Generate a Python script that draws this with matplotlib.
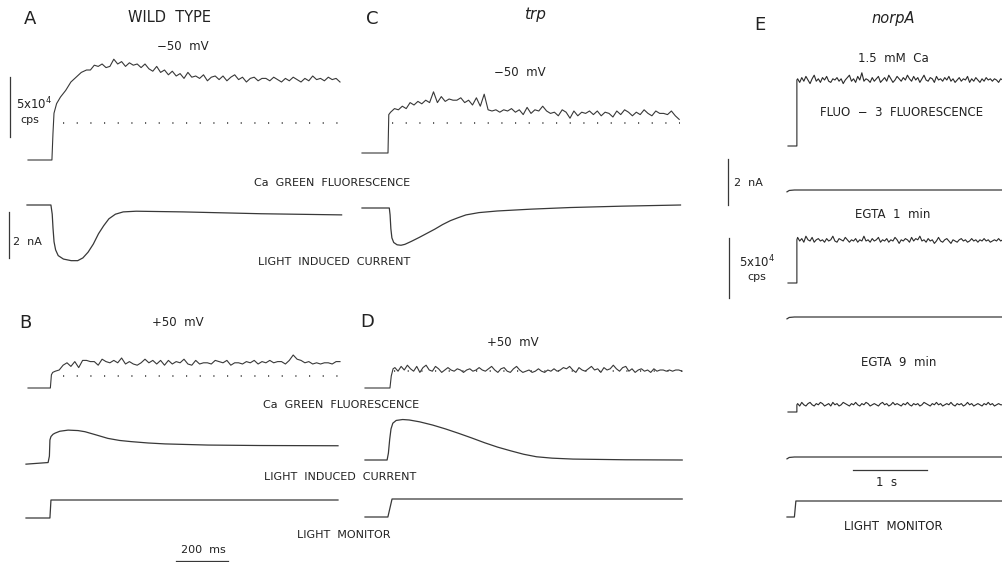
import numpy as np
import matplotlib
matplotlib.use('Agg')
import matplotlib.pyplot as plt

# ---- data (fluorescence in 10^4 cps, current in nA, time in ms / s) ----

# A: wild type, -50 mV
a_fluo_rise_t = [0, 92, 96, 100, 110, 125, 145, 165, 185, 205, 225]
a_fluo_rise_v = [0, 0, 2.2, 3.9, 4.7, 5.25, 5.8, 6.5, 6.9, 7.3, 7.5]
a_fluo_t0, a_fluo_dt = 240, 15
a_fluo_v = [7.5, 7.9, 7.8, 8.0, 7.7, 7.8, 8.4, 8.0, 8.2, 7.8, 8.1, 7.9, 8.0, 7.7,
            8.0, 7.6, 7.4, 7.8, 7.3, 7.5, 7.1, 7.4, 7.0, 7.2, 6.8, 7.3, 6.9, 7.0,
            6.8, 7.1, 6.6, 6.9, 7.0, 6.7, 7.0, 6.6, 6.9, 7.1, 6.7, 6.9, 6.5, 6.8,
            6.9, 6.6, 6.8, 6.8, 6.6, 6.9, 6.7, 6.5, 6.8, 6.6, 6.9, 6.7, 6.5, 6.8,
            6.6, 7.0, 6.7, 6.8, 6.6, 6.9, 6.7, 6.8, 6.5]
a_dot_level = 3.1
a_curr_t = [0, 92, 97, 100, 104, 110, 120, 140, 170, 195, 215, 235, 255, 275,
            295, 315, 340, 370, 420, 600, 900, 1210]
a_curr_v = [0, 0, -0.4, -1.0, -1.6, -1.95, -2.2, -2.35, -2.42, -2.42, -2.3,
            -2.05, -1.7, -1.25, -0.9, -0.6, -0.4, -0.3, -0.27, -0.3, -0.38, -0.43]

# C: trp, -50 mV
c_fluo_rise_t = [0, 100, 103]
c_fluo_rise_v = [0, 0, 3.2]
c_fluo_t0, c_fluo_dt = 110, 15
c_fluo_v = [3.4, 3.7, 3.6, 3.9, 3.7, 4.2, 4.0, 4.3, 4.1, 4.4, 4.2, 5.1, 4.2, 4.7,
            4.3, 4.5, 4.4, 4.4, 4.6, 4.2, 4.4, 4.0, 4.6, 3.9, 4.9, 3.6, 3.5, 3.6,
            3.4, 3.6, 3.5, 3.7, 3.4, 3.6, 3.2, 3.8, 3.3, 3.6, 3.5, 3.9, 3.5, 3.3,
            3.4, 3.1, 3.6, 3.4, 2.9, 3.5, 3.1, 3.4, 3.3, 3.5, 3.2, 3.5, 3.1, 3.4,
            3.3, 3.0, 3.5, 3.2, 3.6, 3.4, 3.1, 3.4, 3.2, 3.6, 3.3, 3.1, 3.5, 3.3,
            3.3, 3.2, 3.5, 3.1, 2.8]
c_dot_level = 2.5
c_curr_t = [0, 105, 108, 111, 115, 122, 135, 150, 165, 190, 220, 250, 280, 310,
            340, 370, 400, 450, 520, 650, 800, 1000, 1225]
c_curr_v = [0, 0, -0.3, -0.9, -1.3, -1.5, -1.6, -1.62, -1.58, -1.45, -1.28,
            -1.1, -0.92, -0.72, -0.55, -0.42, -0.3, -0.2, -0.13, -0.05, 0.02,
            0.08, 0.13]

# B: wild type, +50 mV
b_fluo_rise_t = [0, 86, 90, 95]
b_fluo_rise_v = [0, 0, 1.1, 1.3]
b_fluo_t0, b_fluo_dt = 105, 15
b_fluo_v = [1.4, 1.5, 1.9, 2.1, 1.8, 2.2, 1.7, 2.3, 2.3, 2.2, 2.2, 1.9, 2.4, 2.2,
            2.1, 2.3, 2.1, 2.5, 2.0, 2.2, 2.0, 1.9, 2.1, 2.4, 2.1, 2.3, 2.0, 2.3,
            1.9, 2.3, 2.0, 2.2, 2.1, 2.4, 2.0, 1.9, 2.3, 2.0, 2.1, 2.1, 2.0, 2.3,
            2.2, 2.1, 2.3, 1.9, 2.1, 2.1, 2.0, 2.2, 2.1, 2.3, 2.0, 2.2, 2.1, 2.3,
            2.1, 2.2, 2.2, 2.0, 2.3, 2.75, 2.4, 2.3, 2.1, 2.2, 2.0, 2.1, 2.0, 2.1,
            2.1, 2.0, 2.2, 2.2]
b_dot_level = 1.0
b_curr_t = [0, 85, 90, 92, 96, 104, 112, 130, 162, 200, 227, 270, 315, 360,
            404, 470, 535, 700, 900, 1200]
b_curr_v = [-0.05, 0.02, 0.3, 1.0, 1.15, 1.25, 1.3, 1.38, 1.43, 1.41, 1.36,
            1.22, 1.07, 0.98, 0.93, 0.87, 0.83, 0.78, 0.76, 0.75]
b_light_t = [0, 92, 96, 1200]
b_light_v = [0, 0, 1, 1]

# D: trp, +50 mV
d_fluo_rise_t = [0, 96, 101, 108]
d_fluo_rise_v = [0, 0, 1.0, 1.6]
d_fluo_t0, d_fluo_dt = 115, 12
d_fluo_v = [1.7, 1.4, 1.8, 1.5, 1.9, 1.6, 1.4, 1.8, 1.3, 1.7, 1.9, 1.5, 1.4, 1.8,
            1.6, 1.3, 1.5, 1.7, 1.5, 1.4, 1.6, 1.5, 1.3, 1.5, 1.6, 1.4, 1.5, 1.7,
            1.5, 1.4, 1.6, 1.8, 1.5, 1.3, 1.6, 1.7, 1.4, 1.3, 1.6, 1.8, 1.5, 1.3,
            1.4, 1.5, 1.3, 1.4, 1.6, 1.4, 1.3, 1.5, 1.4, 1.6, 1.4, 1.5, 1.7, 1.6,
            1.8, 1.5, 1.3, 1.7, 1.5, 1.4, 1.6, 1.8, 1.5, 1.6, 1.3, 1.7, 1.5, 1.6,
            1.9, 1.6, 1.4, 1.7, 1.8, 1.4, 1.6, 1.3, 1.5, 1.6, 1.4, 1.5, 1.3, 1.6,
            1.4, 1.5, 1.5, 1.4, 1.5, 1.4, 1.5, 1.5, 1.4]
d_dot_level = 1.4
d_curr_t = [0, 85, 90, 95, 100, 107, 120, 145, 170, 210, 260, 310, 360, 410,
            460, 510, 560, 610, 660, 720, 800, 1000, 1220]
d_curr_v = [0, 0, 0.3, 0.9, 1.35, 1.6, 1.72, 1.76, 1.74, 1.66, 1.52, 1.35, 1.16,
            0.96, 0.75, 0.56, 0.4, 0.25, 0.14, 0.08, 0.04, 0.01, 0]
d_light_t = [0, 88, 104, 1220]
d_light_v = [0, 0, 1, 1]

# E: norpA (time in s)
e_step_t = [0, 0.12, 0.12]
e_dt = 0.028
e1_level = 5.5
e1_v = [5.6, 5.3, 5.7, 5.4, 5.8, 5.5, 5.2, 5.6, 5.9, 5.4, 5.6, 5.3, 5.7, 5.5,
        5.8, 5.4, 5.3, 5.6, 5.5, 5.7, 5.4, 5.6, 5.2, 5.5, 5.7, 5.9, 5.4, 5.6,
        5.3, 5.8, 5.5, 6.1, 5.4, 5.6, 5.5, 5.3, 5.7, 5.4, 5.6, 5.8, 5.3, 5.5,
        5.7, 5.4, 5.9, 5.6, 5.3, 5.5, 5.8, 5.6, 5.4, 5.7, 5.5, 5.9, 5.6, 5.4,
        5.8, 5.5, 5.7, 5.3, 5.6, 5.9, 5.5, 5.4, 5.7, 5.6, 5.3, 5.8, 5.5, 5.6,
        5.4, 5.7, 5.5, 5.8, 5.4, 5.6, 5.3, 5.5, 5.7, 5.4, 5.6, 5.5, 5.8, 5.3,
        5.6, 5.4, 5.7, 5.5, 5.3, 5.6, 5.4, 5.7, 5.5, 5.6, 5.4, 5.6, 5.5, 5.3,
        5.6, 5.5]
e2_level = 3.6
e2_v = [3.8, 3.5, 3.7, 3.4, 3.9, 3.6, 3.5, 3.8, 3.4, 3.6, 3.7, 3.5, 3.6, 3.4,
        3.7, 3.5, 3.6, 3.9, 3.5, 3.4, 3.7, 3.6, 3.5, 3.8, 3.6, 3.4, 3.6, 3.5,
        3.7, 3.4, 3.6, 3.5, 3.9, 3.5, 3.6, 3.4, 3.7, 3.5, 3.6, 3.8, 3.4, 3.6,
        3.5, 3.7, 3.4, 3.6, 3.5, 3.8, 3.6, 3.3, 3.6, 3.5, 3.7, 3.6, 3.4, 3.8,
        3.5, 3.7, 3.6, 3.9, 3.5, 3.6, 3.4, 3.7, 3.5, 3.6, 3.3, 3.5, 3.8, 3.5,
        3.4, 3.6, 3.7, 3.5, 3.3, 3.6, 3.5, 3.4, 3.6, 3.7, 3.5, 3.6, 3.4, 3.5,
        3.7, 3.5, 3.6, 3.4, 3.6, 3.5, 3.7, 3.5, 3.6, 3.4, 3.5, 3.6, 3.5, 3.7,
        3.5, 3.6]
e3_level = 0.6
e3_v = [0.7, 0.5, 0.8, 0.6, 0.5, 0.7, 0.8, 0.6, 0.5, 0.7, 0.6, 0.8, 0.7, 0.5,
        0.6, 0.7, 0.5, 0.8, 0.6, 0.7, 0.5, 0.6, 0.8, 0.7, 0.6, 0.5, 0.7, 0.6,
        0.8, 0.6, 0.5, 0.7, 0.6, 0.8, 0.7, 0.5, 0.6, 0.7, 0.6, 0.5, 0.7, 0.8,
        0.6, 0.7, 0.5, 0.6, 0.8, 0.6, 0.7, 0.6, 0.5, 0.7, 0.6, 0.8, 0.6, 0.5,
        0.7, 0.6, 0.7, 0.5, 0.6, 0.8, 0.7, 0.6, 0.5, 0.7, 0.6, 0.8, 0.6, 0.7,
        0.5, 0.6, 0.7, 0.6, 0.8, 0.6, 0.5, 0.7, 0.6, 0.7, 0.5, 0.6, 0.8, 0.6,
        0.7, 0.5, 0.6, 0.7, 0.6, 0.5, 0.7, 0.6, 0.8, 0.6, 0.7, 0.5, 0.6, 0.7,
        0.6, 0.6]
e_curr_t = [0, 0.03, 0.1, 3.0]
e_curr_v = [-0.08, -0.02, 0, 0]
e_light_t = [0, 0.1, 0.12, 3.0]
e_light_v = [0, 0, 1, 1]

# ---- layout helpers (pixel based) ----
W, H = 1003, 562
INK = '#383838'
PX_MS = 0.26      # px per ms (A-D)
PX_S = 74.0       # px per s (E)
PX_FL = 12.0      # px per 10^4 cps
PX_NA = 23.0      # px per nA
PX_LM = 18.0      # px per light-monitor unit

fig = plt.figure(figsize=(W / 100, H / 100), dpi=100)
fig.patch.set_facecolor('white')


def trace_axes(x0, y0, t_lo, t_hi, v_lo, v_hi, px_t, px_v):
    # x0, y0: pixel position of t=0, v=0
    left = x0 + t_lo * px_t
    right = x0 + t_hi * px_t
    top = y0 - v_hi * px_v
    bottom = y0 - v_lo * px_v
    ax = fig.add_axes([left / W, 1 - bottom / H, (right - left) / W, (bottom - top) / H])
    ax.set_xlim(t_lo, t_hi)
    ax.set_ylim(v_lo, v_hi)
    ax.axis('off')
    return ax


def noisy(rise_t, rise_v, t0, dt, vals):
    t = list(rise_t) + [t0 + dt * i for i in range(len(vals))]
    v = list(rise_v) + list(vals)
    return t, v


def label(x, y, s, size=8, **kw):
    fig.text(x / W, 1 - y / H, s, fontsize=size, color='#222222',
             ha=kw.pop('ha', 'center'), va=kw.pop('va', 'center'), **kw)


def dotted(ax, t_from, t_to, level):
    ax.plot([t_from, t_to], [level, level], color='#444444', lw=1.2,
            linestyle=(0, (0.7, 7.5)))


# ---- panel A ----
ax = trace_axes(28, 160, -80, 1220, -0.5, 9, PX_MS, PX_FL)
t, v = noisy(a_fluo_rise_t, a_fluo_rise_v, a_fluo_t0, a_fluo_dt, a_fluo_v)
ax.plot(t, v, color=INK, lw=0.8)
dotted(ax, 135, 1200, a_dot_level)
ax.plot([-71, -71], [1.9, 6.9], color=INK, lw=0.9)

ax = trace_axes(27, 205, -80, 1220, -2.7, 0.5, PX_MS, PX_NA)
ax.plot(a_curr_t, a_curr_v, color=INK, lw=0.9)
ax.plot([-69, -69], [-0.3, -2.3], color=INK, lw=0.9)

# ---- panel C ----
ax = trace_axes(362, 153, -10, 1240, -0.5, 6, PX_MS, PX_FL)
t, v = noisy(c_fluo_rise_t, c_fluo_rise_v, c_fluo_t0, c_fluo_dt, c_fluo_v)
ax.plot(t, v, color=INK, lw=0.8)
dotted(ax, 115, 1223, c_dot_level)

ax = trace_axes(362, 208, -10, 1240, -2, 0.5, PX_MS, PX_NA)
ax.plot(c_curr_t, c_curr_v, color=INK, lw=0.9)

# ---- panel B ----
ax = trace_axes(28, 388, -10, 1220, -0.5, 3.5, PX_MS, PX_FL)
t, v = noisy(b_fluo_rise_t, b_fluo_rise_v, b_fluo_t0, b_fluo_dt, b_fluo_v)
ax.plot(t, v, color=INK, lw=0.8)
dotted(ax, 135, 1200, b_dot_level)

ax = trace_axes(26, 463, -10, 1220, -0.5, 2, PX_MS, PX_NA)
ax.plot(b_curr_t, b_curr_v, color=INK, lw=0.9)

ax = trace_axes(26, 518, -10, 1220, -3, 1.5, PX_MS, PX_LM)
ax.plot(b_light_t, b_light_v, color=INK, lw=0.9)
ax.plot([577, 777], [-2.4, -2.4], color=INK, lw=0.9)

# ---- panel D ----
ax = trace_axes(365, 388, -10, 1240, -0.5, 3, PX_MS, PX_FL)
t, v = noisy(d_fluo_rise_t, d_fluo_rise_v, d_fluo_t0, d_fluo_dt, d_fluo_v)
ax.plot(t, v, color=INK, lw=0.8)
dotted(ax, 111, 1223, d_dot_level)

ax = trace_axes(365, 460, -10, 1240, -0.5, 2.2, PX_MS, PX_NA)
ax.plot(d_curr_t, d_curr_v, color=INK, lw=0.9)

ax = trace_axes(365, 517, -10, 1240, -0.5, 1.5, PX_MS, PX_LM)
ax.plot(d_light_t, d_light_v, color=INK, lw=0.9)

# ---- panel E ----
e_traces = [(146, e1_level, e1_v), (283, e2_level, e2_v), (412, e3_level, e3_v)]
for y0, lev, vals in e_traces:
    ax = trace_axes(788, y0, -0.9, 3.0, -1.5, 6.5, PX_S, PX_FL)
    t, v = noisy(e_step_t, [0, 0, lev], 0.13, e_dt, vals)
    ax.plot(t, v, color='#2a2a2a', lw=0.8)
    if y0 == 283:
        ax.plot([-0.8, -0.8], [-1.25, 3.75], color=INK, lw=0.9)

for y0 in [190, 317, 457]:
    ax = trace_axes(787, y0, -0.9, 3.0, -1, 1.5, PX_S, PX_NA)
    ax.plot(e_curr_t, e_curr_v, color=INK, lw=0.9)
    if y0 == 190:
        ax.plot([-0.8, -0.8], [-0.65, 1.35], color=INK, lw=0.9)
    if y0 == 457:
        ax.plot([0.89, 1.89], [-0.57, -0.57], color=INK, lw=0.9)

ax = trace_axes(787, 517, -0.9, 3.0, -0.5, 1.5, PX_S, 16)
ax.plot(e_light_t, e_light_v, color=INK, lw=0.9)

# ---- text ----
label(30, 19, 'A', 13)
label(170, 17, 'WILD  TYPE', 10.5)
label(183, 47, '\u221250  mV', 8.5)
label(34, 104, '5x10$^{4}$', 8.5)
label(30, 120, 'cps', 8)
label(332, 183, 'Ca  GREEN  FLUORESCENCE', 8)
label(27, 242, '2  nA', 8)
label(334, 262, 'LIGHT  INDUCED  CURRENT', 8)

label(372, 19, 'C', 13)
label(535, 15, 'trp', 11, style='italic')
label(520, 73, '\u221250  mV', 8.5)

label(25, 323, 'B', 13)
label(178, 323, '+50  mV', 8.5)
label(367, 322, 'D', 13)
label(513, 343, '+50  mV', 8.5)
label(341, 405, 'Ca  GREEN  FLUORESCENCE', 8)
label(340, 477, 'LIGHT  INDUCED  CURRENT', 8)
label(344, 535, 'LIGHT  MONITOR', 8)
label(203, 550, '200  ms', 8)

label(760, 25, 'E', 13)
label(893, 18, 'norpA', 10.5, style='italic')
label(893, 58, '1.5  mM  Ca', 8.5)
label(902, 112, 'FLUO  \u2212  3  FLUORESCENCE', 8.5)
label(748, 183, '2  nA', 8)
label(893, 214, 'EGTA  1  min', 8.5)
label(757, 262, '5x10$^{4}$', 8.5)
label(757, 277, 'cps', 8)
label(899, 362, 'EGTA  9  min', 8.5)
label(887, 483, '1  s', 8.5)
label(893, 526, 'LIGHT  MONITOR', 8.5)

fig.savefig('out.png', dpi=100)
